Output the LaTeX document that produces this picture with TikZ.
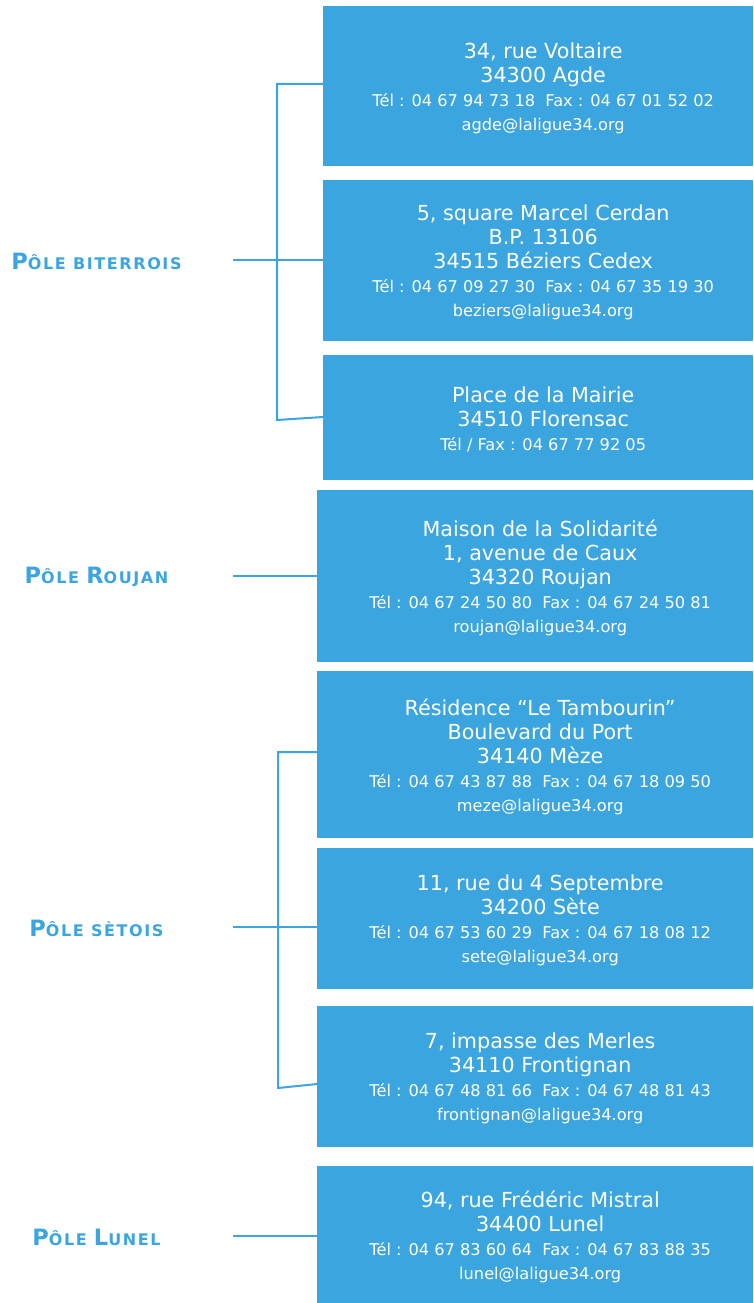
\documentclass[tikz,border=0pt]{standalone}
\usepackage{fontspec}
\setmainfont{DejaVu Sans}
\definecolor{lblue}{RGB}{59,165,224}
\newcommand\smalltxt[1]{{\fontsize{16.2}{24}\selectfont #1}}
\newcommand\pcap[1]{{\fontsize{22.5}{24}\selectfont #1}}
\newcommand\psc[1]{{\fontsize{16}{24}\selectfont\addfontfeature{LetterSpace=10}#1}}
\tikzset{
  addrbox/.style={fill=lblue, draw=none, inner sep=0pt, anchor=north west},
  addrtext/.style={text=white, align=center, inner sep=0pt, font=\fontsize{20.7}{24}\selectfont},
  conn/.style={draw=lblue, line width=2pt},
  pole/.style={text=lblue, font=\bfseries, inner sep=0pt},
}
\begin{document}
\begin{tikzpicture}[x=1pt,y=-1pt]
\useasboundingbox (0,0) rectangle (753,1303);
% boxes
\node[addrbox, minimum width=430pt, minimum height=160pt] (agde) at (323,6) {};
\node[addrbox, minimum width=430pt, minimum height=161pt] (bez) at (323,180) {};
\node[addrbox, minimum width=430pt, minimum height=125pt] (flo) at (323,355) {};
\node[addrbox, minimum width=436pt, minimum height=172pt] (rou) at (317,490) {};
\node[addrbox, minimum width=436pt, minimum height=167pt] (mez) at (317,671) {};
\node[addrbox, minimum width=436pt, minimum height=141pt] (set) at (317,848) {};
\node[addrbox, minimum width=436pt, minimum height=141pt] (fro) at (317,1006) {};
\node[addrbox, minimum width=436pt, minimum height=137pt] (lun) at (317,1166) {};
% texts
\node[addrtext] (agdet) at ([xshift=5pt,yshift=-2pt]agde.center) {34, rue Voltaire\\34300 Agde\\\smalltxt{Tél : 04 67 94 73 18\ \ Fax : 04 67 01 52 02}\\\smalltxt{agde@laligue34.org}};
\node[addrtext] (bezt) at ([xshift=5pt,yshift=-2pt]bez.center) {5, square Marcel Cerdan\\B.P. 13106\\34515 Béziers Cedex\\\smalltxt{Tél : 04 67 09 27 30\ \ Fax : 04 67 35 19 30}\\\smalltxt{beziers@laligue34.org}};
\node[addrtext] (flot) at ([xshift=5pt,yshift=-2pt]flo.center) {Place de la Mairie\\34510 Florensac\\\smalltxt{Tél / Fax : 04 67 77 92 05}};
\node[addrtext] (rout) at ([xshift=5pt,yshift=-2pt]rou.center) {Maison de la Solidarité\\1, avenue de Caux\\34320 Roujan\\\smalltxt{Tél : 04 67 24 50 80\ \ Fax : 04 67 24 50 81}\\\smalltxt{roujan@laligue34.org}};
\node[addrtext] (mezt) at ([xshift=5pt,yshift=-2pt]mez.center) {Résidence “Le Tambourin”\\Boulevard du Port\\34140 Mèze\\\smalltxt{Tél : 04 67 43 87 88\ \ Fax : 04 67 18 09 50}\\\smalltxt{meze@laligue34.org}};
\node[addrtext] (sett) at ([xshift=5pt,yshift=-2pt]set.center) {11, rue du 4 Septembre\\34200 Sète\\\smalltxt{Tél : 04 67 53 60 29\ \ Fax : 04 67 18 08 12}\\\smalltxt{sete@laligue34.org}};
\node[addrtext] (frot) at ([xshift=5pt,yshift=-2pt]fro.center) {7, impasse des Merles\\34110 Frontignan\\\smalltxt{Tél : 04 67 48 81 66\ \ Fax : 04 67 48 81 43}\\\smalltxt{frontignan@laligue34.org}};
\node[addrtext] (lunt) at ([xshift=5pt,yshift=-2pt]lun.center) {94, rue Frédéric Mistral\\34400 Lunel\\\smalltxt{Tél : 04 67 83 60 64\ \ Fax : 04 67 83 88 35}\\\smalltxt{lunel@laligue34.org}};
% pole labels
\node[pole] (pbit) at (96.5,261) {\pcap{P}\psc{ÔLE BITERROIS}};
\node[pole] (prou) at (96.5,577) {\pcap{P}\psc{ÔLE }\pcap{R}\psc{OUJAN}};
\node[pole] (pset) at (96.5,928) {\pcap{P}\psc{ÔLE SÈTOIS}};
\node[pole] (plun) at (96.5,1237) {\pcap{P}\psc{ÔLE }\pcap{L}\psc{UNEL}};
% connector coordinates
\coordinate (bitst) at (233,260);
\coordinate (bittop) at (277,84);
\coordinate (bitbot) at (277,420);
\coordinate (roust) at (233,576);
\coordinate (setst) at (233,927);
\coordinate (settop) at (278,752);
\coordinate (setbot) at (278,1088);
\coordinate (lunst) at (233,1236);
% connectors
\draw[conn] (bitst) -- (bitst -| bez.west);
\draw[conn] (bittop -| agde.west) -- (bittop) -- (bitbot) -- ([yshift=3pt]bitbot -| flo.west);
\draw[conn] (roust) -- (roust -| rou.west);
\draw[conn] (setst) -- (setst -| set.west);
\draw[conn] (settop -| mez.west) -- (settop) -- (setbot) -- ([yshift=4pt]setbot -| fro.west);
\draw[conn] (lunst) -- (lunst -| lun.west);
\end{tikzpicture}
\end{document}
